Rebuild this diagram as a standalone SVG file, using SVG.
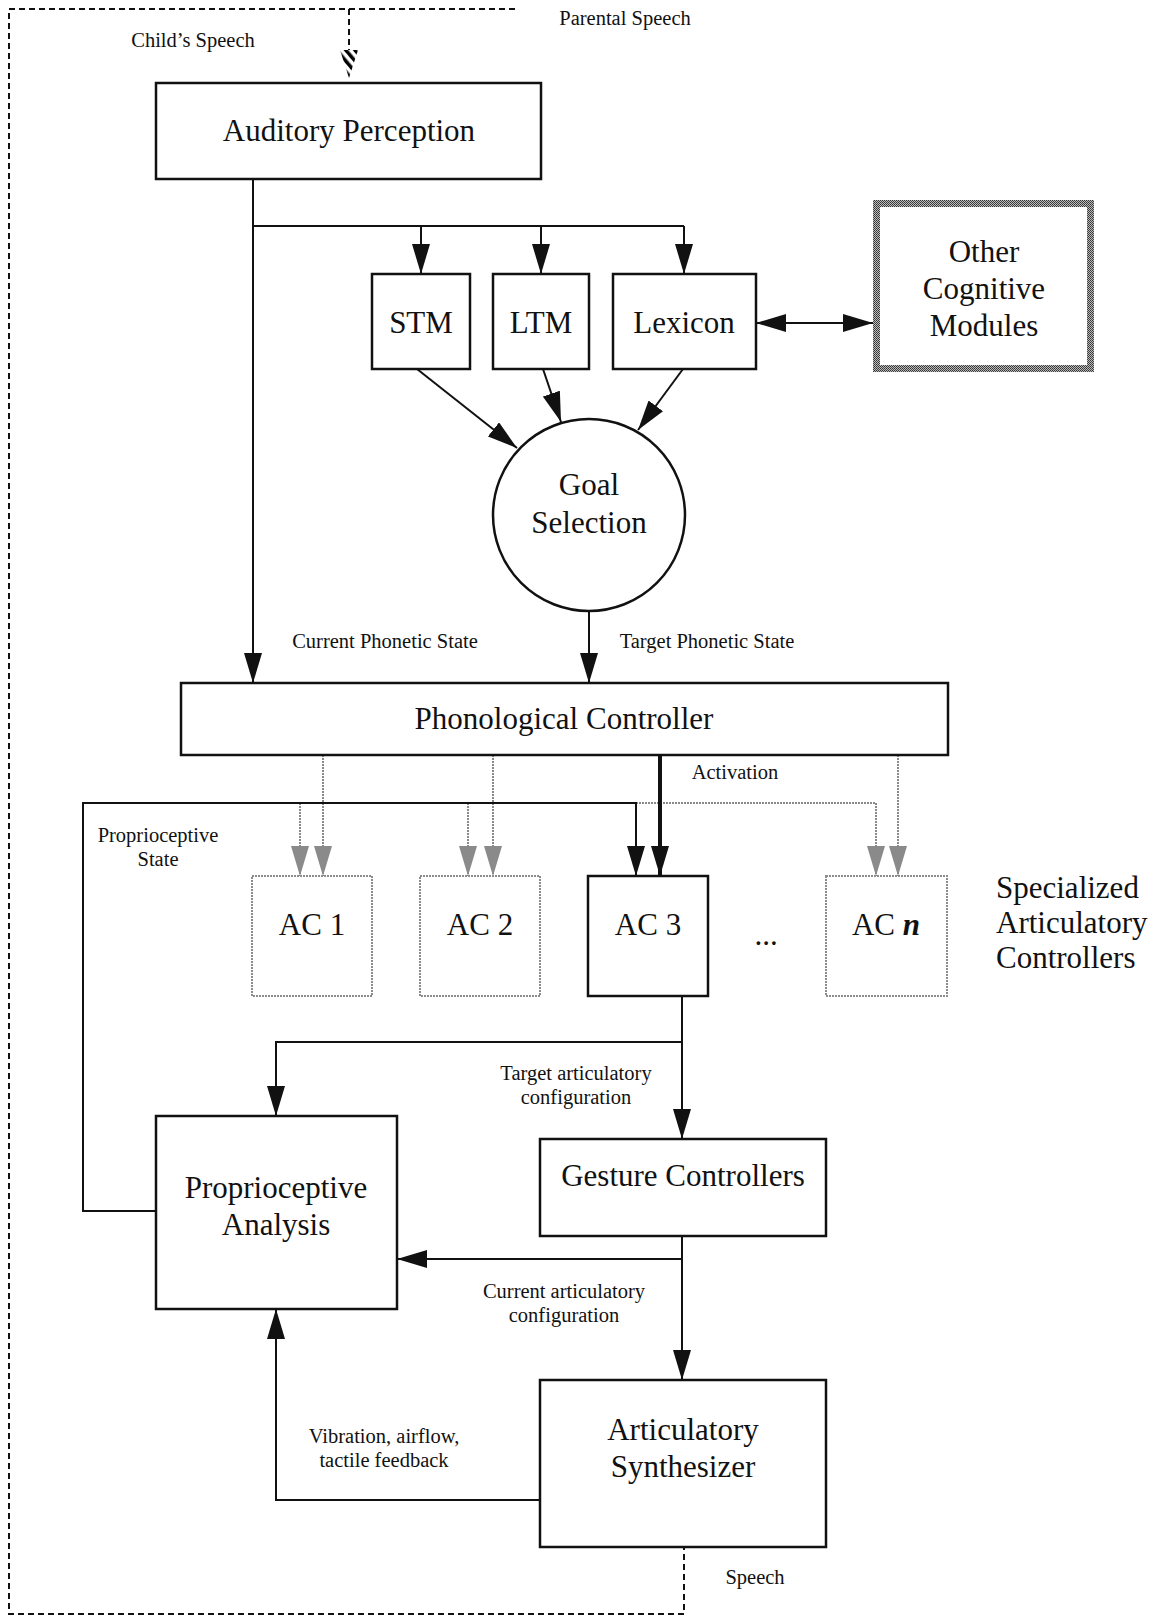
<svg xmlns="http://www.w3.org/2000/svg" width="1159" height="1619" viewBox="0 0 1159 1619">
<style>
.box{fill:#fff;stroke:#111;stroke-width:2.5}
.gbox{fill:#fff;stroke:#8c8c8c;stroke-width:2;stroke-dasharray:2 1}
.big{font-family:"Liberation Serif","Times New Roman",serif;font-size:31px;fill:#111;text-anchor:middle}
.sm{font-family:"Liberation Serif","Times New Roman",serif;font-size:20.5px;fill:#111;text-anchor:middle}
.ln{fill:none;stroke:#111;stroke-width:2}
.thick{fill:none;stroke:#111;stroke-width:4}
.gl{fill:none;stroke:#8a8a8a;stroke-width:2;stroke-dasharray:2 1}
.dash{fill:none;stroke:#111;stroke-width:2;stroke-dasharray:6 4}
</style>
<defs>
<marker id="ah" markerUnits="userSpaceOnUse" markerWidth="30" markerHeight="18" refX="30" refY="9" orient="auto-start-reverse" viewBox="0 0 30 18">
<path d="M0,0 L30,9 L0,18 z" fill="#111"/>
</marker>
<marker id="gah" markerUnits="userSpaceOnUse" markerWidth="30" markerHeight="18" refX="30" refY="9" orient="auto" viewBox="0 0 30 18">
<path d="M0,0 L30,9 L0,18 z" fill="#8a8a8a"/>
</marker>
<pattern id="stripes" patternUnits="userSpaceOnUse" width="7" height="7" patternTransform="rotate(-40)">
<rect width="3.5" height="7" fill="#000"/>
</pattern>
<pattern id="hatch" patternUnits="userSpaceOnUse" width="2" height="2">
<rect width="2" height="2" fill="#bbb"/>
<rect width="1" height="1" fill="#333"/>
<rect x="1" y="1" width="1" height="1" fill="#444"/>
</pattern>
</defs>

<g id="connectors">
<path class="dash" d="M515 9 H9 V1614 H684 V1547"/>
<path class="dash" d="M349 9 V50"/>
<polygon points="340,50 358,50 349,78" fill="url(#stripes)"/>
<path class="ln" d="M253 179 V683" marker-end="url(#ah)"/>
<path class="ln" d="M253 226 H684"/>
<path class="ln" d="M421 226 V274" marker-end="url(#ah)"/>
<path class="ln" d="M541 226 V274" marker-end="url(#ah)"/>
<path class="ln" d="M684 226 V274" marker-end="url(#ah)"/>
<path class="ln" d="M756 323 H873" marker-start="url(#ah)" marker-end="url(#ah)"/>
<path class="ln" d="M417 369 L517 448" marker-end="url(#ah)"/>
<path class="ln" d="M543 369 L561 422" marker-end="url(#ah)"/>
<path class="ln" d="M683 369 L638 430" marker-end="url(#ah)"/>
<path class="ln" d="M589 611 V683" marker-end="url(#ah)"/>
<path class="gl" d="M323 755 V876" marker-end="url(#gah)"/>
<path class="gl" d="M493 755 V876" marker-end="url(#gah)"/>
<path class="gl" d="M898 755 V876" marker-end="url(#gah)"/>
<path class="gl" d="M636 803 H876 V876" marker-end="url(#gah)"/>
<path class="gl" d="M300 803 V876" marker-end="url(#gah)"/>
<path class="gl" d="M468 803 V876" marker-end="url(#gah)"/>
<path class="ln" d="M156 1211 H83 V803 H636 V876" marker-end="url(#ah)"/>
<path class="thick" d="M660 755 V876" marker-end="url(#ah)"/>
<path class="ln" d="M682 996 V1139" marker-end="url(#ah)"/>
<path class="ln" d="M682 1042 H276 V1116" marker-end="url(#ah)"/>
<path class="ln" d="M682 1236 V1380" marker-end="url(#ah)"/>
<path class="ln" d="M682 1259 H397" marker-end="url(#ah)"/>
<path class="ln" d="M540 1500 H276 V1309" marker-end="url(#ah)"/>
</g>

<g id="labels">
<text class="sm" x="625" y="25">Parental Speech</text>
<text class="sm" x="193" y="47">Child’s Speech</text>
<text class="sm" x="385" y="648">Current Phonetic State</text>
<text class="sm" x="707" y="648">Target Phonetic State</text>
<text class="sm" x="735" y="779">Activation</text>
<text class="sm" x="158" y="842">Proprioceptive</text>
<text class="sm" x="158" y="866">State</text>
<text class="sm" x="576" y="1080">Target articulatory</text>
<text class="sm" x="576" y="1104">configuration</text>
<text class="sm" x="564" y="1298">Current articulatory</text>
<text class="sm" x="564" y="1322">configuration</text>
<text class="sm" x="384" y="1443">Vibration, airflow,</text>
<text class="sm" x="384" y="1467">tactile feedback</text>
<text class="sm" x="755" y="1584">Speech</text>
<text class="big" x="766" y="945">...</text>
<text class="big" x="996" y="898" style="text-anchor:start">Specialized</text>
<text class="big" x="996" y="933" style="text-anchor:start">Articulatory</text>
<text class="big" x="996" y="968" style="text-anchor:start">Controllers</text>
</g>

<g id="auditory">
<rect class="box" x="156" y="83" width="385" height="96"/>
<text class="big" x="349" y="141">Auditory Perception</text>
</g>
<g id="stm">
<rect class="box" x="372" y="274" width="98" height="95"/>
<text class="big" x="421" y="333">STM</text>
</g>
<g id="ltm">
<rect class="box" x="493" y="274" width="96" height="95"/>
<text class="big" x="541" y="333">LTM</text>
</g>
<g id="lexicon">
<rect class="box" x="613" y="274" width="143" height="95"/>
<text class="big" x="684" y="333">Lexicon</text>
</g>
<g id="other">
<rect x="876.5" y="203.5" width="214" height="165" fill="#fff" stroke="url(#hatch)" stroke-width="7"/>
<text class="big" x="984" y="262">Other</text>
<text class="big" x="984" y="299">Cognitive</text>
<text class="big" x="984" y="336">Modules</text>
</g>
<g id="goal">
<circle cx="589" cy="515" r="96" fill="#fff" stroke="#111" stroke-width="2.5"/>
<text class="big" x="589" y="495">Goal</text>
<text class="big" x="589" y="533">Selection</text>
</g>
<g id="phon">
<rect class="box" x="181" y="683" width="767" height="72"/>
<text class="big" x="564" y="729">Phonological Controller</text>
</g>
<g id="ac1">
<rect class="gbox" x="252" y="876" width="120" height="120"/>
<text class="big" x="312" y="935">AC 1</text>
</g>
<g id="ac2">
<rect class="gbox" x="420" y="876" width="120" height="120"/>
<text class="big" x="480" y="935">AC 2</text>
</g>
<g id="ac3">
<rect class="box" x="588" y="876" width="120" height="120"/>
<text class="big" x="648" y="935">AC 3</text>
</g>
<g id="acn">
<rect class="gbox" x="826" y="876" width="121" height="120"/>
<text class="big" x="886" y="935">AC <tspan font-style="italic" font-weight="bold">n</tspan></text>
</g>
<g id="propana">
<rect class="box" x="156" y="1116" width="241" height="193"/>
<text class="big" x="276" y="1198">Proprioceptive</text>
<text class="big" x="276" y="1235">Analysis</text>
</g>
<g id="gesture">
<rect class="box" x="540" y="1139" width="286" height="97"/>
<text class="big" x="683" y="1186">Gesture Controllers</text>
</g>
<g id="synth">
<rect class="box" x="540" y="1380" width="286" height="167"/>
<text class="big" x="683" y="1440">Articulatory</text>
<text class="big" x="683" y="1477">Synthesizer</text>
</g>
</svg>
